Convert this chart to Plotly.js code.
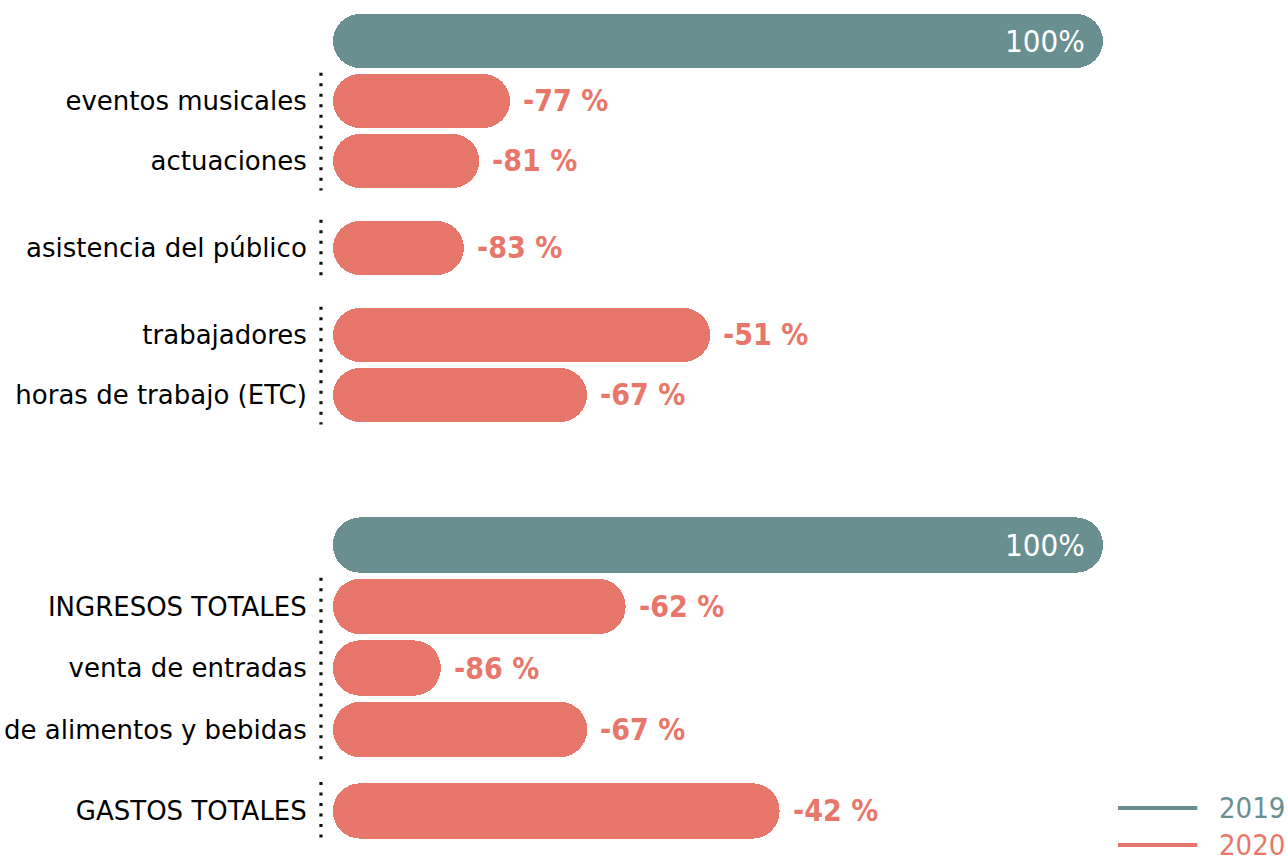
<!DOCTYPE html>
<html>
<head>
<meta charset="utf-8">
<script src="https://cdn.plot.ly/plotly-3.0.1.min.js"></script>
<style>html,body{margin:0;padding:0;background:#fff;}#chart{width:1288px;height:859px;}</style>
</head>
<body>
<div id="chart"></div>
<script>
// ---- data ----
const years = ['2019', '2020'];
const baselineValue = 100;
const topLabels = ['eventos musicales', 'actuaciones', 'asistencia del público', 'trabajadores', 'horas de trabajo (ETC)'];
const topChanges = [-77, -81, -83, -51, -67];
const topGroups = [0, 0, 1, 2, 2];
const bottomLabels = ['INGRESOS TOTALES', 'venta de entradas', 'venta de alimentos y bebidas', 'GASTOS TOTALES'];
const bottomChanges = [-62, -86, -67, -42];
const bottomGroups = [0, 0, 0, 1];

// ---- style ----
const TEAL = '#6a8f91';
const SALMON = '#e8776b';
const FONT = 'DejaVu Sans Condensed, DejaVu Sans, sans-serif';
const LABELFONT = 'DejaVu Sans, sans-serif';
const BARW = 0.9;

function rowPositions(groups, gap) {
  return groups.map((g, i) => 1 + i + g * gap);
}

const panels = [
  {labels: topLabels, changes: topChanges, groups: topGroups, gap: 0.45, ax: 'y'},
  {labels: bottomLabels, changes: bottomChanges, groups: bottomGroups, gap: 0.325, ax: 'y2'}
];

const traces = [];
const annotations = [];
const shapes = [];

function pill(values, ys, color, ax, name) {
  // explicit base -> floating bar, Plotly rounds both ends
  traces.push({
    type: 'bar', orientation: 'h', name: name, showlegend: false,
    y: ys, x: values, base: values.map(() => 0),
    width: BARW, yaxis: ax, xaxis: 'x',
    marker: {color: color, cornerradius: '50%', line: {width: 0}},
    hoverinfo: 'skip'
  });
}

panels.forEach(p => {
  const ys = rowPositions(p.groups, p.gap);
  const vals = p.changes.map(c => baselineValue + c);
  pill([baselineValue], [0], TEAL, p.ax, years[0]);
  pill(vals, ys, SALMON, p.ax, years[1]);

  annotations.push({
    x: baselineValue, y: 0, xref: 'x', yref: p.ax, text: baselineValue + '%',
    xanchor: 'right', yanchor: 'middle', xshift: -16, showarrow: false,
    font: {family: FONT, size: 31, color: '#ffffff'}
  });
  p.changes.forEach((c, i) => {
    annotations.push({
      x: vals[i], y: ys[i], xref: 'x', yref: p.ax, text: c + ' %',
      xanchor: 'left', yanchor: 'middle', xshift: 11, showarrow: false,
      font: {family: FONT, size: 30, color: SALMON, weight: 'bold'}
    });
  });
  // dotted group separators
  const uniq = [...new Set(p.groups)];
  uniq.forEach(g => {
    const idx = p.groups.map((gg, i) => gg === g ? i : -1).filter(i => i >= 0);
    shapes.push({
      type: 'line', xref: 'paper', yref: p.ax,
      x0: -0.0126, x1: -0.0126,
      y0: ys[idx[0]] - 0.47, y1: ys[idx[idx.length - 1]] + 0.49,
      line: {color: '#111111', width: 3.2, dash: '3px,7.5px'}
    });
  });
  p.ys = ys;
});

// legend drawn as lines + labels
[[years[0], TEAL, 0.0594], [years[1], SALMON, 0.0163]].forEach(([lab, col, yy]) => {
  shapes.push({type: 'line', xref: 'paper', yref: 'paper', x0: 0.822, x1: 0.905, y0: yy, y1: yy,
    line: {color: col, width: 4}});
  annotations.push({xref: 'paper', yref: 'paper', x: 0.9255, y: yy, xanchor: 'left', yanchor: 'middle',
    text: lab, showarrow: false, font: {family: FONT, size: 29, color: col}});
});

const yCommon = {
  autorange: false, showgrid: false, zeroline: false, showline: false,
  ticks: 'outside', ticklen: 20, tickcolor: 'rgba(0,0,0,0)',
  tickfont: {family: LABELFONT, size: 26, color: '#000000'}, fixedrange: true
};

const layout = {
  width: 1288, height: 859,
  margin: {l: 333, r: 0, t: 0, b: 0},
  paper_bgcolor: '#ffffff', plot_bgcolor: '#ffffff',
  barmode: 'overlay', bargap: 0,
  showlegend: false,
  xaxis: {range: [0, 124.03], visible: false, fixedrange: true},
  yaxis: Object.assign({}, yCommon, {
    domain: [0.4878, 1], range: [6.65, -0.683],
    tickvals: panels[0].ys, ticktext: topLabels
  }),
  yaxis2: Object.assign({}, yCommon, {
    domain: [0, 0.4528], range: [5.106, -1.22],
    tickvals: panels[1].ys, ticktext: bottomLabels
  }),
  annotations: annotations,
  shapes: shapes
};

Plotly.newPlot('chart', traces, layout, {displayModeBar: false, staticPlot: true});
</script>
</body>
</html>
